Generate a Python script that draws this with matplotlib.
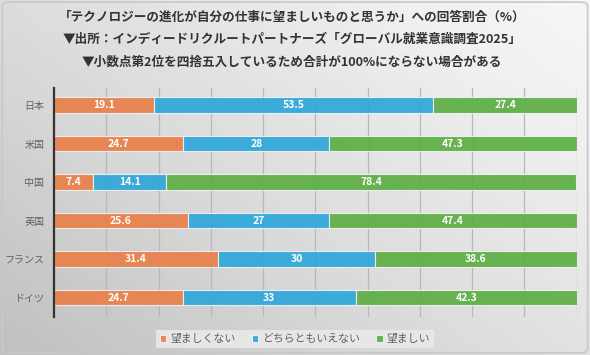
import numpy as np
import matplotlib
matplotlib.use('Agg')
import matplotlib.pyplot as plt
from matplotlib.patches import FancyBboxPatch

plt.rcParams['font.family'] = ['Noto Sans CJK JP', 'DejaVu Sans']

# data
countries = ['日本', '米国', '中国', '英国', 'フランス', 'ドイツ']
not_desirable = [19.1, 24.7, 7.4, 25.6, 31.4, 24.7]
neutral = [53.5, 28, 14.1, 27, 30, 33]
desirable = [27.4, 47.3, 78.4, 47.4, 38.6, 42.3]
series_names = ['望ましくない', 'どちらともいえない', '望ましい']
colors = ['#E8804A', '#2EA7D9', '#5DAE44']
title_lines = [
    '「テクノロジーの進化が自分の仕事に望ましいものと思うか」への回答割合（%）',
    '▼出所：インディードリクルートパートナーズ「グローバル就業意識調査2025」',
    '▼小数点第2位を四捨五入しているため合計が100%にならない場合がある',
]

fig = plt.figure(figsize=(5.9, 3.55), dpi=100)

# background gradient (lighter top-right, darker bottom-left)
bg = fig.add_axes([0, 0, 1, 1], zorder=-10)
gx, gy = np.meshgrid(np.linspace(0, 1, 300), np.linspace(0, 1, 200))
grad = 0.55 * gx + 0.45 * (1 - gy)
bg.imshow(grad, cmap='Greys_r', vmin=-2.2, vmax=1.25, aspect='auto',
          extent=[0, 1, 0, 1], origin='upper')
bg.set_axis_off()
bg.add_patch(FancyBboxPatch((0.004, 0.006), 0.992, 0.988,
                            boxstyle='round,pad=0,rounding_size=0.012',
                            transform=bg.transAxes, fill=False,
                            edgecolor='#c8c8c8', linewidth=1.2))

ax = fig.add_axes([0.0915, 0.107, 0.886, 0.646])
ax.set_facecolor('none')

y = np.arange(len(countries))
left = np.zeros(len(countries))
for vals, name, col in zip([not_desirable, neutral, desirable], series_names, colors):
    vals = np.array(vals, dtype=float)
    bars = ax.barh(y, vals, left=left, height=0.4, color=col, alpha=0.92,
                   edgecolor='#f2f2f2', linewidth=0.8, label=name, zorder=3)
    labels = [f'{v:g}' for v in vals]
    ax.bar_label(bars, labels=labels, label_type='center', color='white',
                 fontsize=7.5, fontweight='bold', zorder=4)
    left += vals

ax.set_ylim(5.5, -0.45)
ax.set_xlim(0, 100)
ax.set_yticks(y)
ax.set_yticklabels(countries, fontsize=7.2, color='#606060')
ax.set_xticks(np.arange(0, 101, 10))
ax.set_xticklabels([])
ax.tick_params(axis='x', length=0)
ax.tick_params(axis='y', length=0, pad=7)
ax.grid(axis='x', color='#b8b8b8', linewidth=0.9, zorder=0)
for s in ['top', 'right', 'bottom']:
    ax.spines[s].set_visible(False)
ax.spines['left'].set_color('#333333')
ax.spines['left'].set_linewidth(1.6)
ax.spines['left'].set_zorder(5)

leg = fig.legend(loc='center', bbox_to_anchor=(0.5, 0.045), ncol=3,
                 frameon=True, fontsize=7.8, handlelength=0.6, handleheight=0.6,
                 handletextpad=0.35, columnspacing=1.5, borderpad=0.35,
                 fancybox=False)
leg.get_frame().set_facecolor('#e9e9e9')
leg.get_frame().set_edgecolor('none')
leg.get_frame().set_alpha(0.9)
for t in leg.get_texts():
    t.set_color('#606060')

for i, line in enumerate(title_lines):
    fig.text(0.495, 1 - (17 + 22.5 * i) / 355, line, ha='center', va='center',
             fontsize=9.1, fontweight='bold', color='#333333')

fig.savefig('out.png', dpi=100)
